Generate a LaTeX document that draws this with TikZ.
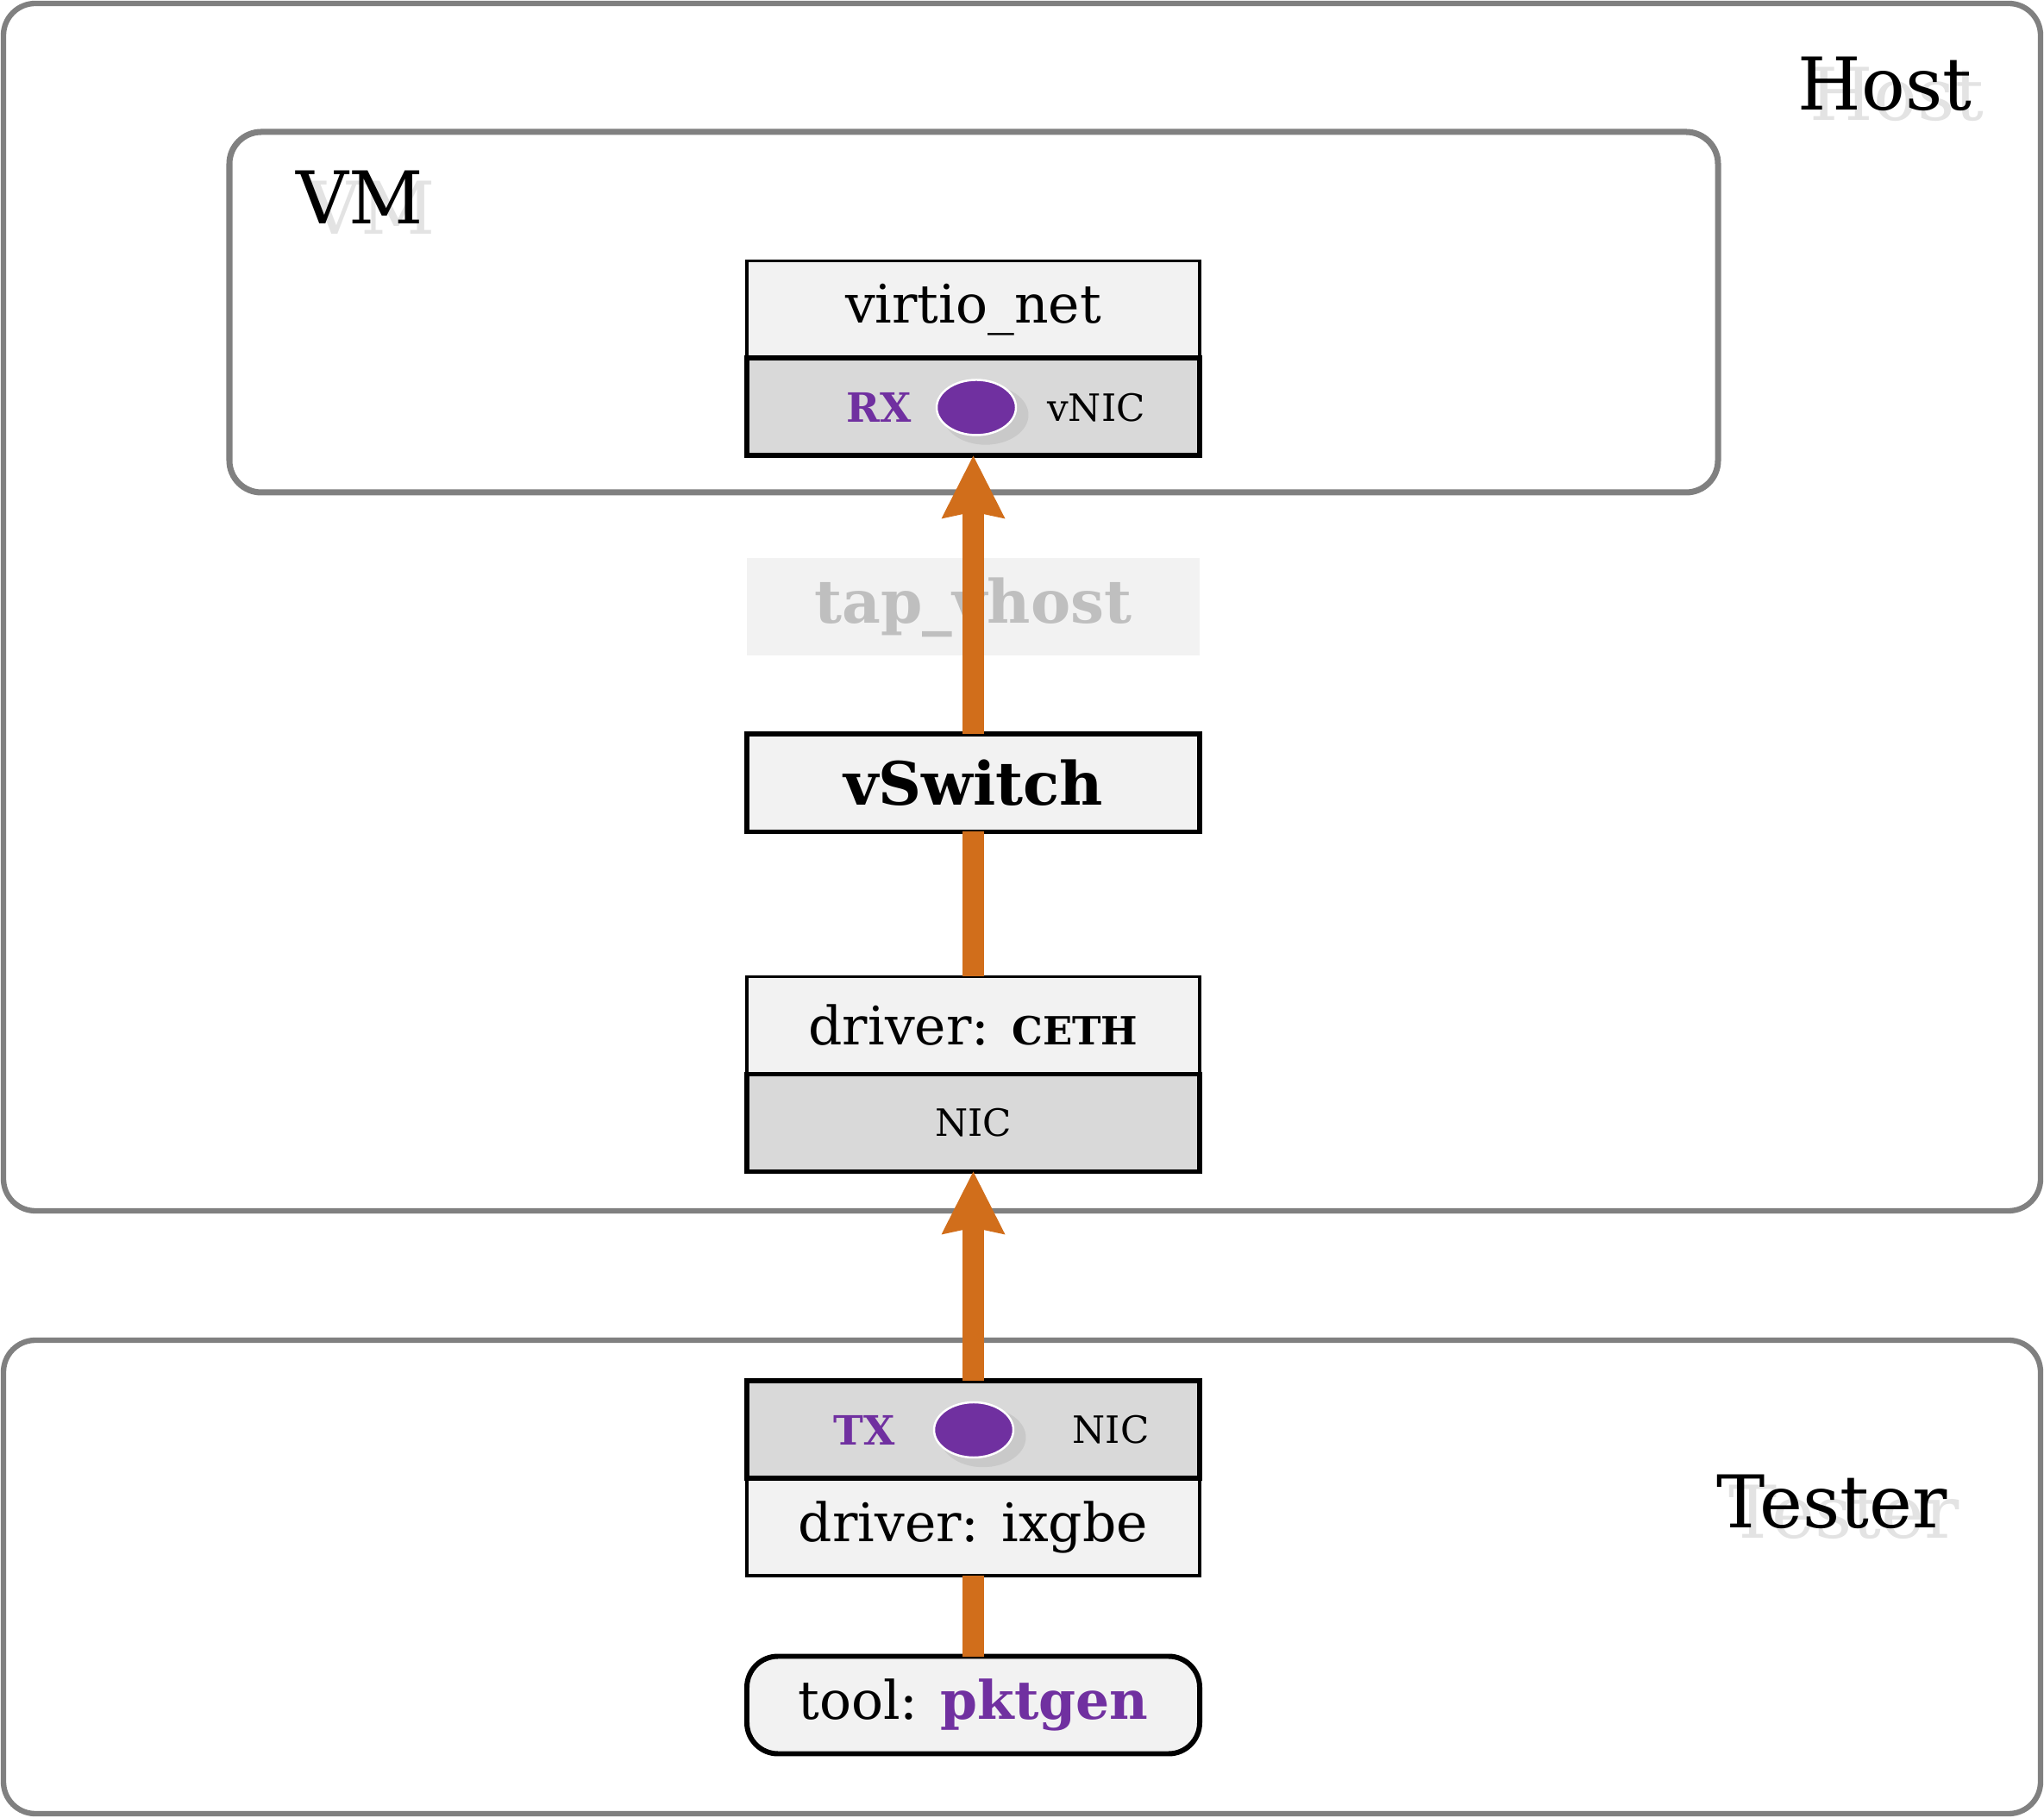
\documentclass[tikz,border=0pt]{standalone}
\usepackage{fontspec}
\setmainfont{DejaVu Serif}
\usepackage{xcolor}
\usepackage{tikz}
\usetikzlibrary{arrows.meta,positioning,shapes.geometric,shadows}

\definecolor{hostgray}{RGB}{128,128,128}
\definecolor{boxlight}{RGB}{242,242,242}
\definecolor{boxdark}{RGB}{217,217,217}
\definecolor{floworange}{RGB}{209,110,27}
\definecolor{portpurple}{RGB}{112,48,160}
\definecolor{ghosttext}{RGB}{191,191,191}

\newcommand{\lblsize}{\fontsize{24}{28}\selectfont}
\newcommand{\boxsize}{\fontsize{17.5}{21}\selectfont}
\newcommand{\nicsize}{\fontsize{12.4}{15}\selectfont}

\begin{document}
\begin{tikzpicture}[
    group/.style={rectangle, draw=hostgray, line width=1.8pt, rounded corners=0.37cm},
    layerbox/.style={rectangle, draw, fill=boxlight, line width=1.1pt, minimum width=5.25cm, minimum height=1.13cm, outer sep=0pt, inner sep=0pt, font=\boxsize},
    nicbox/.style={layerbox, fill=boxdark, line width=1.7pt, font=\nicsize},
    portdot/.style={ellipse, fill=portpurple, draw=white, line width=0.7pt, minimum width=0.92cm, minimum height=0.64cm, inner sep=0pt,
        drop shadow={shadow xshift=0.1cm, shadow yshift=-0.08cm, shadow scale=1.08, fill=black, opacity=0.07}},
    portname/.style={text=portpurple, font=\fontsize{13.3}{15}\selectfont\bfseries, inner sep=0pt},
    title/.style={anchor=base, font=\lblsize, inner sep=0pt},
    titleshadow/.style={title, text=black!11},
    flowline/.style={draw=floworange, line width=7pt},
    flowtip/.style={flowline, -{Stealth[length=0.73cm, width=0.74cm, inset=0.08cm, line width=0pt]}}
]
\useasboundingbox (0,0) rectangle (23.70,21.07);

% Machines
\node[group, minimum width=23.62cm, minimum height=14cm] (host) at (11.85,14.03) {};
\node[group, minimum width=23.62cm, minimum height=5.49cm] (tester) at (11.85,2.785) {};
\node[group, line width=2pt, minimum width=17.26cm, minimum height=4.18cm] (vm) at (11.29,17.45) {};

% Machine names
\node[titleshadow] (hostshadow) at (21.995,19.67) {Host};
\node[title] (hostname) at (21.855,19.79) {Host};
\node[titleshadow] (vmshadow) at (4.31,18.35) {VM};
\node[title] (vmname) at (4.17,18.47) {VM};
\node[titleshadow] (testershadow) at (21.38,3.23) {Tester};
\node[title] (testername) at (21.24,3.35) {Tester};

% Guest stack
\node[layerbox] (virtio) at (11.285,17.48) {virtio\_net};
\node[nicbox, below=0pt of virtio] (vnic) {};
\node[portdot] (rxdot) at (11.32,16.345) {};
\node[portname] (rxlabel) at (10.19,16.345) {RX};
\node[font=\nicsize, inner sep=0pt] (vniclabel) at (12.71,16.345) {vNIC};

% Host stack
\node[layerbox, draw=none, font=\fontsize{19.7}{23}\selectfont\bfseries, text=ghosttext] (tap) at (11.285,14.03) {tap\_vhost};
\node[layerbox, line width=1.7pt, font=\fontsize{19.7}{23}\selectfont\bfseries] (vswitch) at (11.285,11.99) {vSwitch};
\node[layerbox] (ceth) at (11.285,9.18) {driver: {\bfseries\fontsize{12.8}{15}\selectfont CETH}};
\node[nicbox, below=0pt of ceth] (nic) {NIC};

% Tester stack
\node[layerbox] (ixgbe) at (11.285,3.365) {driver: ixgbe};
\node[nicbox, above=0pt of ixgbe] (txnic) {};
\node[portdot] (txdot) at (11.29,4.49) {};
\node[portname] (txlabel) at (10.02,4.49) {TX};
\node[font=\nicsize, inner sep=0pt] (txniclabel) at (12.88,4.49) {NIC};
\node[layerbox, line width=1.7pt, rounded corners=0.36cm] (pktgen) at (11.285,1.30) {tool: {\bfseries\color{portpurple}pktgen}};

% Packet path
\draw[flowtip] (vswitch.north) -- (vnic.south);
\draw[flowline] (vswitch.south) -- (ceth.north);
\draw[flowtip] (txnic.north) -- (nic.south);
\draw[flowline] (pktgen.north) -- (ixgbe.south);

\end{tikzpicture}
\end{document}
